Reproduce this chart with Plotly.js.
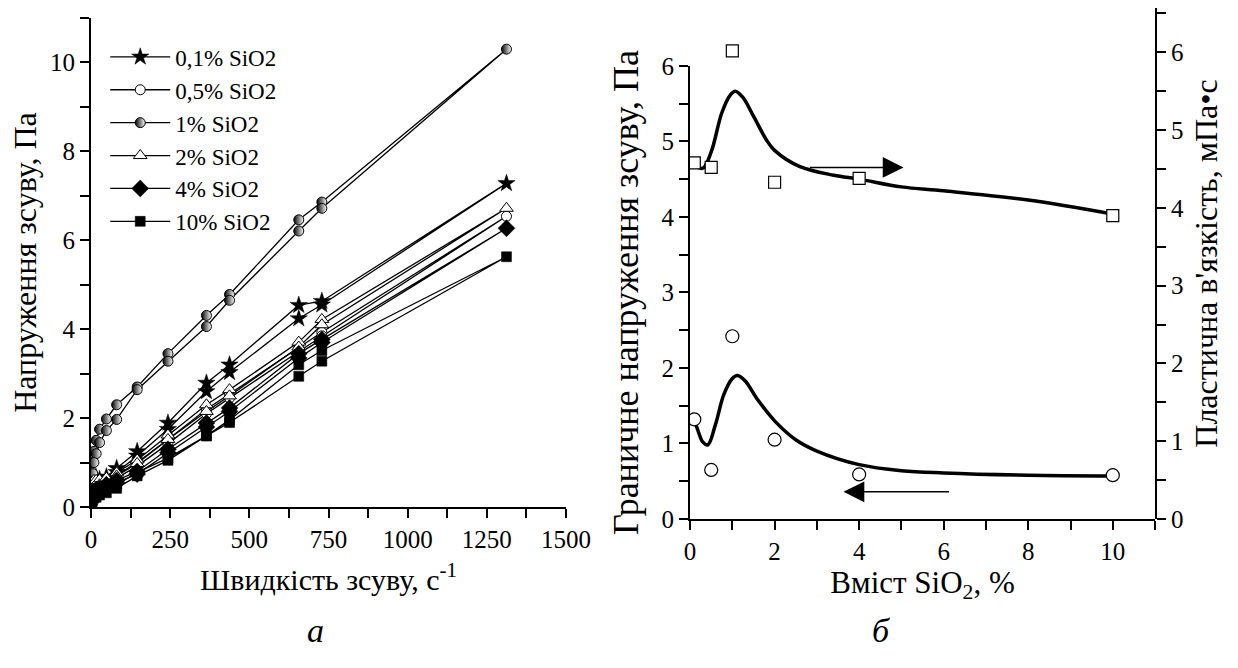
<!DOCTYPE html>
<html><head><meta charset="utf-8">
<script src="https://cdn.plot.ly/plotly-3.0.1.min.js"></script>
<style>body{margin:0;background:#fff}#chart{width:1238px;height:668px}</style>
</head><body><div id="chart"></div>
<script>
// ---- Left chart (a): shear stress vs shear rate, up & down branches ----
const shearRate = [3, 5.4, 9, 16.2, 27, 48.6, 81, 145.8, 243, 364.5, 437.4, 656.1, 729, 1312];
const seriesNames = ['0,1% SiO2', '0,5% SiO2', '1% SiO2', '2% SiO2', '4% SiO2', '10% SiO2'];
const up_01  = [0.45, 0.5, 0.55, 0.6, 0.62, 0.68, 0.87, 1.25, 1.89, 2.79, 3.2, 4.54, 4.63, 7.28];
const down_01 = [0.3, 0.35, 0.4, 0.45, 0.5, 0.6, 0.78, 1.15, 1.75, 2.6, 3.03, 4.24, 4.55];
const up_05  = [0.35, 0.4, 0.45, 0.5, 0.55, 0.62, 0.72, 1.0, 1.52, 2.2, 2.55, 3.6, 3.93, 6.54];
const down_05 = [0.25, 0.3, 0.35, 0.4, 0.45, 0.55, 0.65, 0.92, 1.42, 2.1, 2.45, 3.5, 3.85];
const up_1   = [0.8, 1.0, 1.25, 1.5, 1.75, 1.98, 2.3, 2.7, 3.45, 4.31, 4.78, 6.46, 6.86, 10.3];
const down_1 = [0.55, 0.75, 1.0, 1.2, 1.45, 1.72, 1.97, 2.64, 3.28, 4.06, 4.65, 6.21, 6.72];
const up_2   = [0.55, 0.57, 0.6, 0.6, 0.61, 0.65, 0.77, 1.06, 1.62, 2.3, 2.64, 3.71, 4.22, 6.72];
const down_2 = [0.35, 0.4, 0.45, 0.45, 0.5, 0.55, 0.7, 0.98, 1.52, 2.15, 2.5, 3.6, 4.1];
const up_4   = [0.3, 0.32, 0.35, 0.38, 0.42, 0.5, 0.6, 0.8, 1.3, 1.89, 2.23, 3.45, 3.77, 6.27];
const down_4 = [0.2, 0.22, 0.25, 0.3, 0.35, 0.42, 0.55, 0.74, 1.22, 1.8, 2.15, 3.35, 3.7];
const up_10  = [0.25, 0.27, 0.3, 0.33, 0.36, 0.42, 0.5, 0.78, 1.1, 1.6, 1.96, 3.2, 3.52, 5.63];
const down_10 = [0.1, 0.15, 0.2, 0.22, 0.27, 0.32, 0.42, 0.7, 1.05, 1.6, 1.9, 2.94, 3.28];

// ---- Right chart (б) ----
const siO2 = [0.1, 0.5, 1, 2, 4, 10];
const yieldStress = [1.32, 0.65, 2.42, 1.05, 0.59, 0.58];
const plasticVisc = [4.58, 4.52, 6.02, 4.33, 4.38, 3.9];
const yieldFitX = [0.1, 0.2, 0.3, 0.42, 0.6, 0.8, 1.0, 1.12, 1.3, 1.6, 2.0, 2.5, 3, 4, 5, 6, 8, 10];
const yieldFitY = [1.32, 1.15, 1.02, 0.98, 1.25, 1.65, 1.86, 1.9, 1.83, 1.58, 1.3, 1.05, 0.9, 0.72, 0.64, 0.61, 0.58, 0.57];
const viscFitX = [0.1, 0.3, 0.5, 0.75, 0.95, 1.07, 1.25, 1.5, 1.8, 2.0, 2.6, 3.4, 4, 5, 6, 8, 10];
const viscFitY = [4.55, 4.51, 4.72, 5.22, 5.45, 5.5, 5.42, 5.18, 4.88, 4.74, 4.53, 4.42, 4.37, 4.27, 4.22, 4.1, 3.92];

const FONT = 'Liberation Serif, Times New Roman, serif';

const ups = [up_01, up_05, up_1, up_2, up_4, up_10];
const downs = [down_01, down_05, down_1, down_2, down_4, down_10];
const markers = [
  {symbol: 'star', size: 13, color: 'black', line: {color: 'black', width: 0.5}},
  {symbol: 'circle', size: 10, color: 'white', line: {color: 'black', width: 1}},
  {symbol: 'circle', size: 10, color: 'black', gradient: {type: 'horizontal', color: 'white'}, line: {color: 'black', width: 1}},
  {symbol: 'triangle-up', size: 12, color: 'white', line: {color: 'black', width: 1}},
  {symbol: 'diamond', size: 13, color: 'black', line: {color: 'black', width: 0.5}},
  {symbol: 'square', size: 10, color: 'black', line: {color: 'black', width: 0.5}}
];

const traces = [];
seriesNames.forEach((name, i) => {
  const xs = shearRate.concat(shearRate.slice(0, shearRate.length - 1).reverse());
  const ys = ups[i].concat(downs[i].slice().reverse());
  traces.push({
    type: 'scatter', mode: 'lines+markers', name: name, x: xs, y: ys,
    xaxis: 'x', yaxis: 'y',
    line: {color: 'black', width: 1.3},
    marker: markers[i]
  });
});

traces.push({type: 'scatter', mode: 'lines', x: yieldFitX, y: yieldFitY, xaxis: 'x2', yaxis: 'y2',
  line: {color: 'black', width: 3.5, shape: 'spline', smoothing: 1}, showlegend: false, hoverinfo: 'skip'});
traces.push({type: 'scatter', mode: 'markers', x: siO2, y: yieldStress, xaxis: 'x2', yaxis: 'y2',
  marker: {symbol: 'circle', size: 13, color: 'white', line: {color: 'black', width: 1.2}}, showlegend: false});
traces.push({type: 'scatter', mode: 'lines', x: viscFitX, y: viscFitY, xaxis: 'x2', yaxis: 'y3',
  line: {color: 'black', width: 3.5, shape: 'spline', smoothing: 1}, showlegend: false, hoverinfo: 'skip'});
traces.push({type: 'scatter', mode: 'markers', x: siO2, y: plasticVisc, xaxis: 'x2', yaxis: 'y3',
  marker: {symbol: 'square', size: 12, color: 'white', line: {color: 'black', width: 1.2}}, showlegend: false});

function axisBase(extra) {
  return Object.assign({
    showline: true, linewidth: 2, linecolor: 'black', showgrid: false, zeroline: false,
    ticks: 'outside', ticklen: 9, tickwidth: 2, tickcolor: 'black',
    tickfont: {family: FONT, size: 25, color: 'black'}
  }, extra);
}

const layout = {
  width: 1238, height: 668, margin: {l: 0, r: 0, t: 0, b: 0},
  paper_bgcolor: 'white', plot_bgcolor: 'rgba(0,0,0,0)',
  font: {family: FONT, size: 24, color: 'black'},
  showlegend: true,
  legend: {x: 0.085, y: 0.947, xanchor: 'left', yanchor: 'top', bgcolor: 'rgba(0,0,0,0)',
    font: {family: FONT, size: 23, color: 'black'}, itemwidth: 60, tracegroupgap: 0},
  xaxis: axisBase({domain: [0.0735, 0.4572], range: [0, 1500], tick0: 0, dtick: 250, anchor: 'y',
    minor: {dtick: 125, ticks: 'outside', ticklen: 9, tickwidth: 2, tickcolor: 'black'},
    title: {text: 'Швидкість зсуву, с<sup>-1</sup>', font: {family: FONT, size: 30}, standoff: 17}}),
  yaxis: axisBase({domain: [0.241, 0.973], range: [0, 11], tick0: 0, dtick: 2, anchor: 'x',
    minor: {dtick: 1, ticks: 'outside', ticklen: 9, tickwidth: 2, tickcolor: 'black'},
    title: {text: 'Напруження зсуву, Па', font: {family: FONT, size: 32}, standoff: 4}}),
  xaxis2: axisBase({domain: [0.5574, 0.933], range: [0, 11], tick0: 0, dtick: 2, anchor: 'y2',
    minor: {dtick: 1, ticks: 'outside', ticklen: 9, tickwidth: 2, tickcolor: 'black'},
    title: {text: 'Вміст SiO<sub>2</sub>, %', font: {family: FONT, size: 31}, standoff: 0}}),
  yaxis2: axisBase({domain: [0.2231, 0.9012], range: [0, 6], tick0: 0, dtick: 1, anchor: 'x2',
    minor: {dtick: 0.5, ticks: 'outside', ticklen: 9, tickwidth: 2, tickcolor: 'black'},
    title: {text: 'Граничне напруження зсуву, Па', font: {family: FONT, size: 36}, standoff: 12}}),
  yaxis3: axisBase({domain: [0.2231, 0.988], range: [0, 6.57], tick0: 0, dtick: 1, anchor: 'x2', side: 'right',
    minor: {dtick: 0.5, ticks: 'outside', ticklen: 9, tickwidth: 2, tickcolor: 'black'},
    title: {text: "Пластична в'язкість, мПа•с", font: {family: FONT, size: 32}, standoff: 12}}),
  annotations: [
    {xref: 'x2', yref: 'y3', x: 5.05, y: 4.52, axref: 'x2', ayref: 'y3', ax: 2.8, ay: 4.52,
      showarrow: true, arrowhead: 2, arrowsize: 2.6, arrowwidth: 1.6, arrowcolor: 'black', text: ''},
    {xref: 'x2', yref: 'y2', x: 3.63, y: 0.36, axref: 'x2', ayref: 'y2', ax: 6.16, ay: 0.36,
      showarrow: true, arrowhead: 2, arrowsize: 2.6, arrowwidth: 1.6, arrowcolor: 'black', text: ''},
    {xref: 'paper', yref: 'paper', x: 305 / 1238, y: 1 - 630 / 668, yanchor: 'middle', text: '<i>а</i>', showarrow: false,
      font: {family: FONT, size: 34, color: 'black'}},
    {xref: 'paper', yref: 'paper', x: 893 / 1238, y: 1 - 630 / 668, yanchor: 'middle', text: '<i>б</i>', showarrow: false,
      font: {family: FONT, size: 34, color: 'black'}}
  ]
};

Plotly.newPlot('chart', traces, layout, {staticPlot: true});
</script>
</body></html>
